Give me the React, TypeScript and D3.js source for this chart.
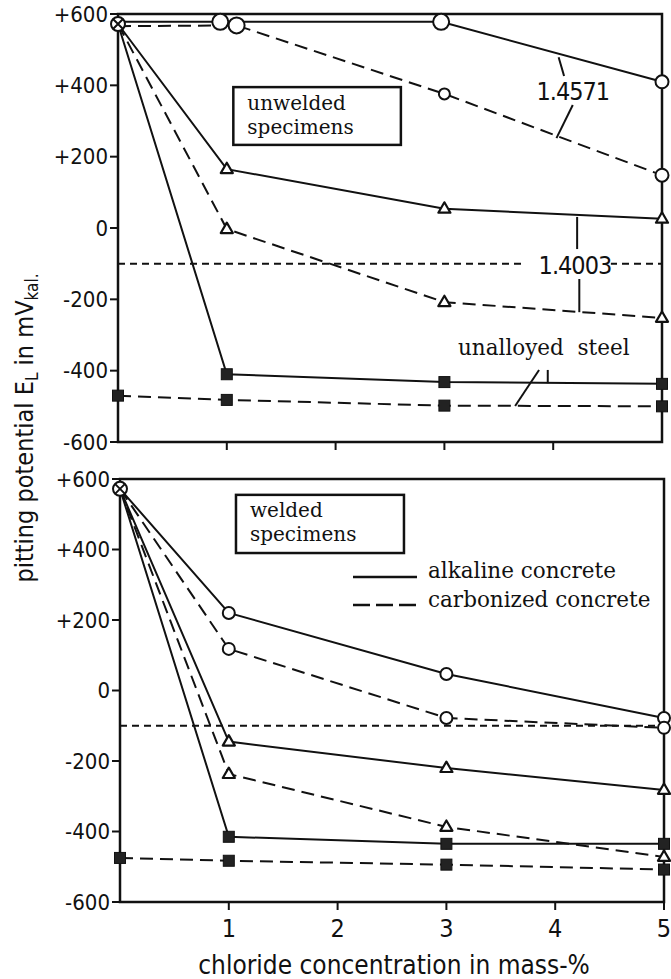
import * as d3 from "d3";

// chloride concentration in mass-%
const conc = [0, 1, 3, 5];
const xTicks = [1, 2, 3, 4, 5];
const yTicks = [600, 400, 200, 0, -200, -400, -600];
const yTickLabels = ["+600", "+400", "+200", "0", "-200", "-400", "-600"];
const refPotential = -100;
const startPotential = 572;

// unwelded specimens (top panel)
const unw14571AlkX = [0, 0.94, 2.97, 5];
const unw14571Alk = [578, 578, 578, 410];
const unw14571CarbX = [0, 1.09, 3, 5];
const unw14571Carb = [566, 568, 376, 148];
const unw14003Alk = [572, 165, 54, 26];
const unw14003Carb = [572, -3, -208, -252];
const unwSteelAlk = [572, -410, -432, -437];
const unwSteelCarb = [-470, -482, -498, -500];

// welded specimens (bottom panel)
const wel14571Alk = [572, 220, 47, -78];
const wel14571Carb = [572, 118, -78, -106];
const wel14003Alk = [572, -145, -220, -282];
const wel14003Carb = [572, -237, -387, -472];
const welSteelAlk = [572, -415, -435, -435];
const welSteelCarb = [-475, -483, -494, -508];

const SANS = "'DejaVu Sans Condensed', 'Liberation Sans Narrow', 'DejaVu Sans', sans-serif";
const SERIF = "'DejaVu Serif', 'Liberation Serif', serif";
const INK = "#111";

type Series = {
  xs: number[];
  ys: number[];
  dashed: boolean;
  marker: "circle" | "triangle" | "square";
  sizes?: number[];
  skipFirst: boolean;
};

function Marker({ kind, x, y, s }: { kind: string; x: number; y: number; s: number }) {
  if (kind === "circle")
    return <circle cx={x} cy={y} r={s} fill="#fff" stroke={INK} strokeWidth={2} />;
  if (kind === "triangle") {
    const h = s * 0.9;
    return (
      <path
        d={`M${x},${y - h * 0.65}L${x + s * 0.55},${y + h * 0.4}L${x - s * 0.55},${y + h * 0.4}Z`}
        fill="#fff"
        stroke={INK}
        strokeWidth={2.2}
        strokeLinejoin="round"
      />
    );
  }
  return <rect x={x - s / 2} y={y - s / 2} width={s} height={s} fill="#222" stroke={INK} strokeWidth={1} />;
}

function Panel({
  x,
  y,
  series,
  topTicks,
  label,
  box,
  children,
}: {
  x: d3.ScaleLinear<number, number>;
  y: d3.ScaleLinear<number, number>;
  series: Series[];
  topTicks: number[];
  label: string[];
  box: [number, number, number, number];
  children?: any;
}) {
  const [x0, x1] = x.range();
  const [yb, yt] = y.range();
  const line = d3
    .line<[number, number]>()
    .x((d) => x(d[0]))
    .y((d) => y(d[1]));
  const [bx0, bx1, by0, by1] = box;
  return (
    <g>
      {/* reference line */}
      <line
        x1={x0}
        x2={x1}
        y1={y(refPotential)}
        y2={y(refPotential)}
        stroke={INK}
        strokeWidth={2}
        strokeDasharray="7 5"
      />
      {children}
      {series.map((s, i) => (
        <path
          key={i}
          d={line(s.xs.map((v, j) => [v, s.ys[j]] as [number, number])) || ""}
          fill="none"
          stroke={INK}
          strokeWidth={2}
          strokeDasharray={s.dashed ? "13 7" : undefined}
        />
      ))}
      {/* frame */}
      <rect x={x0} y={yt} width={x1 - x0} height={yb - yt} fill="none" stroke={INK} strokeWidth={2.5} />
      {yTicks.map((t, i) => (
        <g key={t}>
          <line x1={x0 - 8} x2={x0} y1={y(t)} y2={y(t)} stroke={INK} strokeWidth={2} />
          <text
            x={x0 - 10}
            y={y(t)}
            textAnchor="end"
            dominantBaseline="central"
            fontFamily={SANS}
            fontSize={22}
            fill={INK}
          >
            {yTickLabels[i]}
          </text>
        </g>
      ))}
      {topTicks.map((t) => (
        <line key={t} x1={x(t)} x2={x(t)} y1={yb} y2={yb + 8} stroke={INK} strokeWidth={2} />
      ))}
      {series.map((s, i) =>
        s.xs.map((v, j) =>
          s.skipFirst && j === 0 ? null : (
            <Marker
              key={`${i}-${j}`}
              kind={s.marker}
              x={x(v)}
              y={y(s.ys[j])}
              s={s.sizes ? s.sizes[j] : s.marker === "circle" ? 6 : 11}
            />
          )
        )
      )}
      {/* crossed start point */}
      <g>
        <circle cx={x(0)} cy={y(startPotential)} r={7} fill="#fff" stroke={INK} strokeWidth={2} />
        <path
          d={`M${x(0) - 5},${y(startPotential) - 5}L${x(0) + 5},${y(startPotential) + 5}M${x(0) + 5},${
            y(startPotential) - 5
          }L${x(0) - 5},${y(startPotential) + 5}`}
          stroke={INK}
          strokeWidth={2}
        />
      </g>
      {/* specimen box */}
      <rect
        x={x(bx0)}
        y={y(by0)}
        width={x(bx1) - x(bx0)}
        height={y(by1) - y(by0)}
        fill="#fff"
        stroke={INK}
        strokeWidth={2.5}
      />
      <text x={x(bx0) + 14} y={y(by0) + 22.5} fontFamily={SERIF} fontSize={20} fill={INK}>
        {label[0]}
      </text>
      <text x={x(bx0) + 14} y={y(by0) + 46.5} fontFamily={SERIF} fontSize={20} fill={INK}>
        {label[1]}
      </text>
    </g>
  );
}

export default function App() {
  const xTop = d3.scaleLinear().domain([0, 5]).range([118, 662]);
  const yTop = d3.scaleLinear().domain([-600, 600]).range([442, 14]);
  const xBot = d3.scaleLinear().domain([0, 5]).range([120, 664]);
  const yBot = d3.scaleLinear().domain([-600, 600]).range([902, 479]);

  const topSeries: Series[] = [
    { xs: unw14571AlkX, ys: unw14571Alk, dashed: false, marker: "circle", sizes: [0, 8, 8, 6.5], skipFirst: true },
    { xs: unw14571CarbX, ys: unw14571Carb, dashed: true, marker: "circle", sizes: [0, 8, 5.5, 6.5], skipFirst: true },
    { xs: conc, ys: unw14003Alk, dashed: false, marker: "triangle", skipFirst: true },
    { xs: conc, ys: unw14003Carb, dashed: true, marker: "triangle", skipFirst: true },
    { xs: conc, ys: unwSteelAlk, dashed: false, marker: "square", skipFirst: true },
    { xs: conc, ys: unwSteelCarb, dashed: true, marker: "square", skipFirst: false },
  ];
  const botSeries: Series[] = [
    { xs: conc, ys: wel14571Alk, dashed: false, marker: "circle", skipFirst: true },
    { xs: conc, ys: wel14571Carb, dashed: true, marker: "circle", skipFirst: true },
    { xs: conc, ys: wel14003Alk, dashed: false, marker: "triangle", skipFirst: true },
    { xs: conc, ys: wel14003Carb, dashed: true, marker: "triangle", skipFirst: true },
    { xs: conc, ys: welSteelAlk, dashed: false, marker: "square", skipFirst: true },
    { xs: conc, ys: welSteelCarb, dashed: true, marker: "square", skipFirst: false },
  ];

  const lead = (pts: [number, number][]) =>
    d3
      .line<[number, number]>()
      .x((d) => xTop(d[0]))
      .y((d) => yTop(d[1]))(pts) || "";

  return (
    <svg
      width={671}
      height={979}
      viewBox="0 0 671 979"
      style={{ position: "absolute", left: 0, top: 0, background: "#fff" }}
    >
      <rect width={671} height={979} fill="#fff" />
      <Panel
        x={xTop}
        y={yTop}
        series={topSeries}
        topTicks={[1, 2, 3, 4]}
        label={["unwelded", "specimens"]}
        box={[1.06, 2.6, 395, 233]}
      >
        {/* gap in the reference line for the 1.4003 label */}
        <rect x={xTop(3.72)} y={yTop(-60)} width={xTop(4.53) - xTop(3.72)} height={yTop(-150) - yTop(-60)} fill="#fff" />
      </Panel>
      {/* annotations, top panel */}
      <g fontFamily={SANS} fill={INK} fontSize={25}>
        <path d={lead([[4.05, 479], [4.1, 426]])} stroke={INK} strokeWidth={2} fill="none" />
        <text x={xTop(4.18)} y={yTop(359)} textAnchor="middle" letterSpacing={-1}>
          1.4571
        </text>
        <path d={lead([[4.18, 345], [4.03, 252]])} stroke={INK} strokeWidth={2} fill="none" />
        <path d={lead([[4.22, 31], [4.22, -59]])} stroke={INK} strokeWidth={2} fill="none" />
        <text x={xTop(4.2)} y={yTop(-129)} textAnchor="middle" letterSpacing={-1}>
          1.4003
        </text>
        <path d={lead([[4.24, -143], [4.24, -236]])} stroke={INK} strokeWidth={2} fill="none" />
        <text x={xTop(3.125)} y={yTop(-356)} fontFamily={SERIF} fontSize={21.5} style={{ whiteSpace: "pre" }}>
          unalloyed  steel
        </text>
        <path d={lead([[3.87, -398], [3.65, -499]])} stroke={INK} strokeWidth={2} fill="none" />
        <path d={lead([[3.95, -398], [3.95, -435]])} stroke={INK} strokeWidth={2} fill="none" />
      </g>

      <Panel
        x={xBot}
        y={yBot}
        series={botSeries}
        topTicks={xTicks}
        label={["welded", "specimens"]}
        box={[1.066, 2.61, 555, 390]}
      />

      {/* legend */}
      <g>
        <line x1={353} x2={417} y1={577} y2={577} stroke={INK} strokeWidth={2.5} />
        <text x={428} y={578} fontFamily={SERIF} fontSize={21.5} fill={INK}>
          alkaline concrete
        </text>
        <line x1={353} x2={417} y1={605} y2={605} stroke={INK} strokeWidth={2.5} strokeDasharray="17 6" />
        <text x={428} y={607} fontFamily={SERIF} fontSize={21.5} fill={INK}>
          carbonized concrete
        </text>
      </g>

      {/* x axis tick labels and title */}
      {xTicks.map((t) => (
        <text key={t} x={xBot(t)} y={937} textAnchor="middle" fontFamily={SANS} fontSize={25} fill={INK}>
          {t}
        </text>
      ))}
      <text x={394} y={974} textAnchor="middle" fontFamily={SANS} fontSize={26} fill={INK}>
        chloride concentration in mass-%
      </text>

      {/* y axis title */}
      <text
        transform="translate(33,428) rotate(-90)"
        textAnchor="middle"
        fontFamily={SANS}
        fontSize={25}
        fill={INK}
      >
        pitting potential E<tspan baselineShift="-30%" fontSize={17}>L</tspan> in mV
        <tspan baselineShift="-30%" fontSize={17}>kal.</tspan>
      </text>
    </svg>
  );
}
